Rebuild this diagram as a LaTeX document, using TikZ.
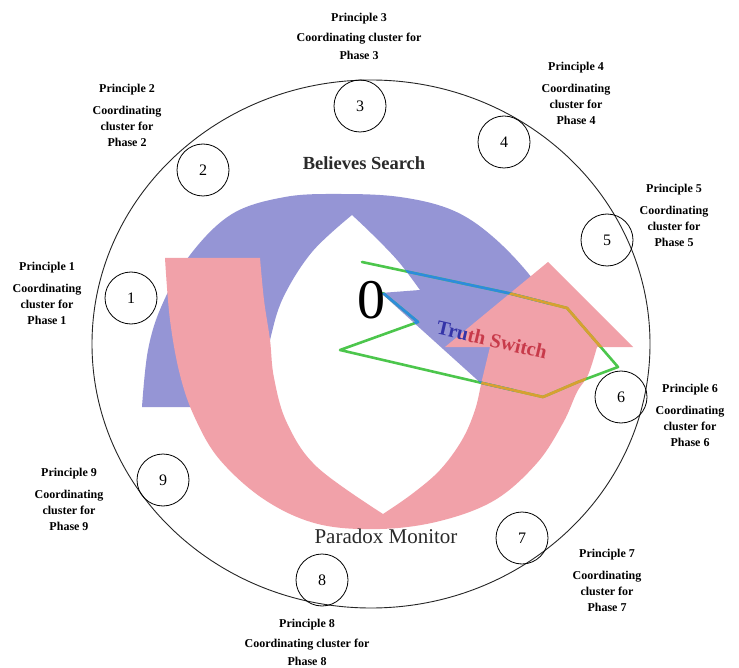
\documentclass[tikz,border=0pt]{standalone}
\usepackage{fontspec}
\setmainfont{Liberation Serif}
\usetikzlibrary{shapes.geometric}
\definecolor{bluefill}{HTML}{9595D5}
\definecolor{pinkfill}{HTML}{F1A1A9}
\definecolor{lgreen}{HTML}{4CC64C}
\definecolor{lblue}{HTML}{2C8CDC}
\definecolor{lorange}{HTML}{D8A030}
\definecolor{tsblue}{HTML}{3434A8}
\definecolor{tsred}{HTML}{C83A4A}
\definecolor{darktext}{HTML}{2A2A2A}
\begin{document}
\begin{tikzpicture}[x=1pt,y=-1pt,
  numc/.style={circle, draw=black, line width=0.8pt, minimum size=52pt, inner sep=0pt, font=\fontsize{16}{16}\selectfont},
  lbl/.style={font=\bfseries\fontsize{12}{16}\selectfont, align=center, inner sep=0pt},
  pline/.style={line width=2.6pt, line join=round, line cap=round},
  bigtext/.style={inner sep=0pt, text=darktext}]
\useasboundingbox (0,0) rectangle (739,668);
\fill[white] (0,0) rectangle (739,668);
\def\bluepath{(142,407) -- plot[smooth,tension=0.6] coordinates {(142,407) (148,350) (162,305) (190,255) (232,214) (285,197) (340,194) (400,197) (452,210) (492,236) (532,278) (562,325)} -- (505,405) -- (381,293) -- (420,290) -- plot[smooth,tension=0.6] coordinates {(420,290) (398,261) (372,234) (352,215)} -- plot[smooth,tension=0.6] coordinates {(352,215) (312,252) (283,298) (270,340) (262,380) (255,407)} -- cycle}
\def\pinkpath{(165,258) -- (260,258) -- plot[smooth,tension=0.6] coordinates {(260,258) (264,300) (270,340) (274,378) (287,423) (317,467) (383,514)} -- plot[smooth,tension=0.6] coordinates {(383,514) (412,494) (440,470) (462,440) (475,410) (482,380) (490,347)} -- (445,347) -- (548,262) -- (633,347) -- (597,347) -- plot[smooth,tension=0.6] coordinates {(597,347) (588,375) (577,392) (563,423) (537,463) (495,500) (440,521) (380,529) (318,524) (265,500) (220,460) (195,418) (180,375) (170,320) (165,258)} -- cycle}
\def\polyl{(383,293) -- (418,322) -- (340,350) -- (482,383) -- (543,397) -- (578,382) -- (618,367) -- (567,308) -- (508,293) -- (362,262)}
\fill[bluefill] \bluepath;
\fill[pinkfill] \pinkpath;
\draw[pline, lgreen] \polyl;
\begin{scope}
  \clip \bluepath;
  \draw[pline, lblue] \polyl;
\end{scope}
\begin{scope}
  \clip \pinkpath;
  \draw[pline, lorange] \polyl;
\end{scope}
\node[inner sep=0pt, font=\fontsize{56}{56}\selectfont] (zero) at (371,300) {0};
\node[inner sep=0pt, rotate=-13, font=\bfseries\fontsize{20}{20}\selectfont] (truth) at (492,340) {\textcolor{tsblue}{Tru}\textcolor{tsred}{th Switch}};
\node[bigtext, font=\bfseries\fontsize{18.5}{20}\selectfont] (believes) at (364,163) {Believes Search};
\node[bigtext, font=\fontsize{21}{22}\selectfont] (paradox) at (386,536) {Paradox Monitor};
\node[draw=black!85, ellipse, line width=0.9pt, minimum width=558pt, minimum height=528pt, inner sep=0pt] (ring) at (371,344) {};
\node[numc] (c1) at (131,298) {1};
\node[numc] (c2) at (203,170) {2};
\node[numc] (c3) at (360,106) {3};
\node[numc] (c4) at (504,142) {4};
\node[numc] (c5) at (607,240) {5};
\node[numc] (c6) at (621,397) {6};
\node[numc] (c7) at (522,538) {7};
\node[numc] (c8) at (322,580) {8};
\node[numc] (c9) at (163,480) {9};
\node[lbl] (l1) at (47,293) {Principle 1\\[6pt]Coordinating\\cluster for\\Phase 1};
\node[lbl] (l2) at (127,115) {Principle 2\\[6pt]Coordinating\\cluster for\\Phase 2};
\node[lbl] (l3) at (359,36) {Principle 3\\[4pt]Coordinating cluster for\\[2pt]Phase 3};
\node[lbl] (l4) at (576,93) {Principle 4\\[6pt]Coordinating\\cluster for\\Phase 4};
\node[lbl] (l5) at (674,215) {Principle 5\\[6pt]Coordinating\\cluster for\\Phase 5};
\node[lbl] (l6) at (690,415) {Principle 6\\[6pt]Coordinating\\cluster for\\Phase 6};
\node[lbl] (l7) at (607,580) {Principle 7\\[6pt]Coordinating\\cluster for\\Phase 7};
\node[lbl] (l8) at (307,642) {Principle 8\\[4pt]Coordinating cluster for\\[2pt]Phase 8};
\node[lbl] (l9) at (69,499) {Principle 9\\[6pt]Coordinating\\cluster for\\Phase 9};
\end{tikzpicture}
\end{document}
